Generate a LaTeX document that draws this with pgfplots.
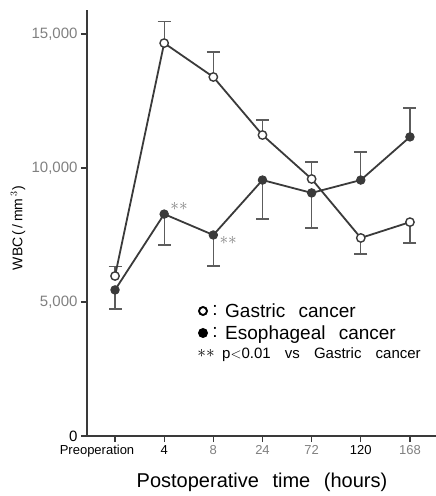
\documentclass[border=0pt]{standalone}
\usepackage{fontspec}
\setmainfont{Liberation Sans}
\usepackage{pgfplots}
\pgfplotsset{compat=1.18}
\definecolor{lc}{HTML}{3A3A3A}
\definecolor{ec}{HTML}{5C5C5C}
\definecolor{tc}{HTML}{808080}
\begin{document}
\begin{tikzpicture}[x=1pt,y=1pt]
\useasboundingbox (-87,-60) rectangle (349,436);
\begin{axis}[
  at={(0,0)}, anchor=south west,
  scale only axis, width=349pt, height=426pt,
  xmin=-0.57, xmax=6.53, ymin=0, ymax=15895,
  scaled y ticks=false, scaled x ticks=false,
  axis lines*=left,
  axis line style={draw=lc, line width=2pt},
  tick align=outside,
  major tick length=6pt,
  tick style={draw=lc, line width=1.2pt},
  xtick={0,1,2,3,4,5,6},
  xticklabels={\makebox[0pt]{\hspace*{-36pt}Preoperation},4,{\color{tc}8},{\color{tc}24},{\color{tc}72},120,{\color{tc}168}},
  ytick={0,5000,10000,15000},
  yticklabels={0,{\color{tc}5,000},{\color{tc}10,000},{\color{tc}15,000}},
  yticklabel style={font=\fontsize{15}{17}\selectfont},
  xticklabel style={font=\fontsize{13}{15}\selectfont},
  clip=false,
]
% error bars (one-sided)
\addplot[draw=none, forget plot,
  error bars/.cd, y dir=plus, y explicit,
  error bar style={ec, line width=1.2pt},
  error mark options={rotate=90, mark size=6.5pt, ec, line width=1.2pt}]
  coordinates {(0,5970) +- (0,340) (1,14660) +- (0,820) (2,13395) +- (0,935) (3,11230) +- (0,560) (4,9590) +- (0,630)};
\addplot[draw=none, forget plot,
  error bars/.cd, y dir=minus, y explicit,
  error bar style={ec, line width=1.2pt},
  error mark options={rotate=90, mark size=6.5pt, ec, line width=1.2pt}]
  coordinates {(5,7390) +- (0,600) (6,7980) +- (0,780)};
\addplot[draw=none, forget plot,
  error bars/.cd, y dir=minus, y explicit,
  error bar style={ec, line width=1.2pt},
  error mark options={rotate=90, mark size=6.5pt, ec, line width=1.2pt}]
  coordinates {(0,5450) +- (0,710) (1,8280) +- (0,1150) (2,7500) +- (0,1160) (3,9550) +- (0,1450) (4,9070) +- (0,1310)};
\addplot[draw=none, forget plot,
  error bars/.cd, y dir=plus, y explicit,
  error bar style={ec, line width=1.2pt},
  error mark options={rotate=90, mark size=6.5pt, ec, line width=1.2pt}]
  coordinates {(5,9550) +- (0,1050) (6,11160) +- (0,1080)};
% Esophageal cancer
\addplot[lc, line width=1.8pt, mark=*, mark size=4.2pt, mark options={fill=lc, draw=lc, line width=1pt}]
  coordinates {(0,5450) (1,8280) (2,7500) (3,9550) (4,9070) (5,9550) (6,11160)};
% Gastric cancer
\addplot[lc, line width=1.8pt, mark=*, mark size=4.2pt, mark options={fill=white, draw=lc, line width=1.4pt}]
  coordinates {(0,5970) (1,14660) (2,13395) (3,11230) (4,9590) (5,7390) (6,7980)};
\node[anchor=west, text=tc, font=\fontsize{16}{18}\selectfont, inner sep=0pt] at (axis cs:1,8280) [xshift=6pt, yshift=8pt] {$\ast\ast$};
\node[anchor=west, text=tc, font=\fontsize{16}{18}\selectfont, inner sep=0pt] at (axis cs:2,7500) [xshift=6pt, yshift=-5pt] {$\ast\ast$};
\end{axis}
\node[rotate=90, font=\fontsize{14}{16}\selectfont] at (-69,208) {WBC\,(\,/\,mm\,$^{3}$)};
\node[font=\fontsize{20}{24}\selectfont] at (175,-46) {Postoperative\hspace{8pt} time\hspace{8pt} (hours)};
% legend text
\draw[black, line width=1.9pt] (116,125) circle (4pt);
\fill[black] (116,103) circle (5pt);
\node[font=\fontsize{19}{22}\selectfont, inner sep=0pt] at (128,126) {:};
\node[font=\fontsize{19}{22}\selectfont, inner sep=0pt] at (128,104) {:};
\node[anchor=base west, font=\fontsize{19}{22}\selectfont, inner sep=0pt] at (138,118.5) {Gastric\hspace{8pt} cancer};
\node[anchor=base west, font=\fontsize{19}{22}\selectfont, inner sep=0pt] at (138,96.5) {Esophageal\hspace{8pt} cancer};
\node[font=\fontsize{17}{20}\selectfont, inner sep=0pt] at (119,83) {$\ast\ast$};
\node[anchor=base west, font=\fontsize{15}{18}\selectfont, inner sep=0pt] at (135,77.5) {p$<$0.01\hspace{10pt} vs\hspace{10pt} Gastric\hspace{10pt} cancer};
\end{tikzpicture}
\end{document}
